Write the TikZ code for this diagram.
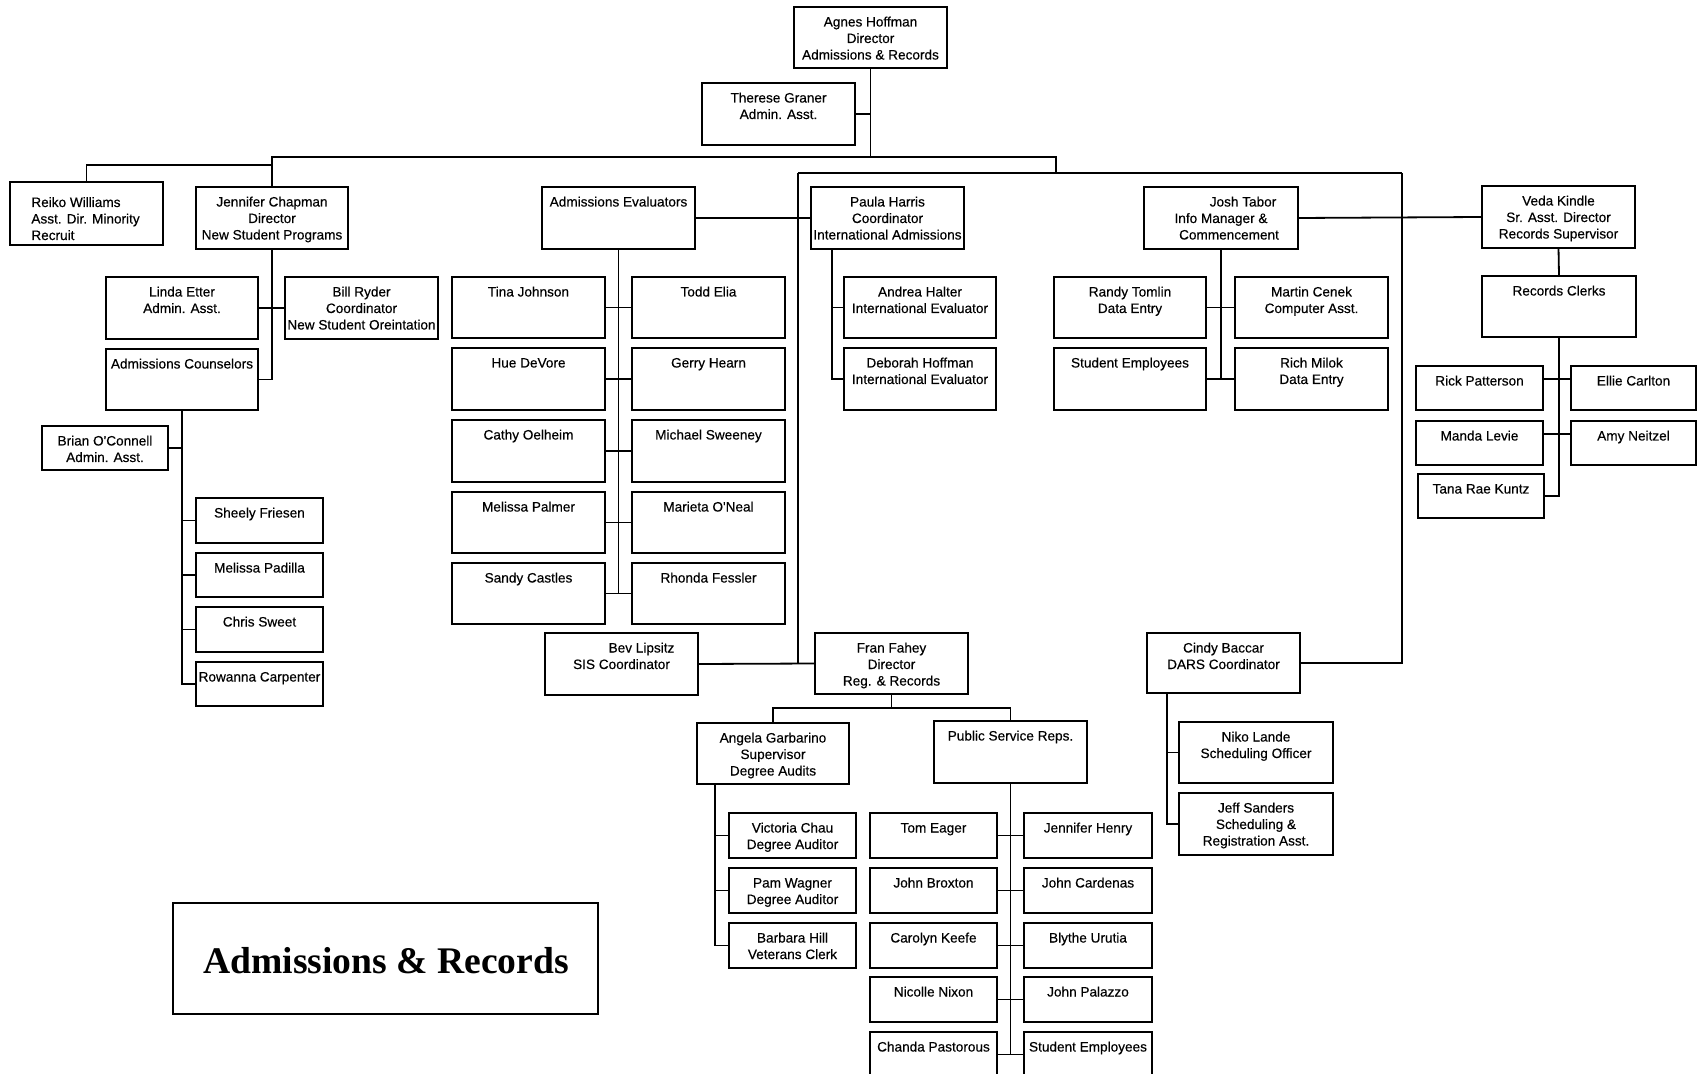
\documentclass[tikz,border=0pt]{standalone}
\usepackage{fontspec}
\setmainfont{Liberation Sans}
\newfontfamily\cardfont[FakeBold=0.4]{Liberation Sans}
\newfontfamily\titlefont{Liberation Serif}
\usetikzlibrary{calc}
\tikzset{
  card/.style={draw, line width=0.9pt, inner sep=0pt, outer sep=0pt, anchor=north west},
  cardtext/.style={inner sep=0pt, anchor=base, font=\cardfont\fontsize{6.8}{8.25}\selectfont},
  link/.style={draw, line width=0.9pt},
}
% \card{extra style}{name}{left}{top}{right}{bottom}{lines}
\newcommand\card[7]{%
  \node[card,#1,minimum width={(#5-#3)*0.5pt},minimum height={(#6-#4)*0.5pt}] (#2) at (#3,#4) {};
  \node[cardtext] (#2-t) at ($(#2.north)+(0,19.5)$) {\begin{tabular}[t]{@{}c@{}}#7\end{tabular}};
}
\begin{document}
\begin{tikzpicture}[x=0.5pt,y=-0.5pt]
\useasboundingbox (0,0) rectangle (1701,1074);
\clip (0,0) rectangle (1701,1074);

% --- top level
\card{}{agnes}{794}{7}{947}{68}{Agnes Hoffman\\Director\\Admissions \& Records}
\card{}{therese}{702}{83}{855}{145}{Therese Graner\\Admin. Asst.}

% --- new student programs
\node[card,minimum width=76.5pt,minimum height=31.5pt] (reiko) at (10,182) {};
\node[cardtext,anchor=base west] (reiko-t) at (31,207) {\begin{tabular}[t]{@{}l@{}}Reiko Williams\\Asst. Dir. Minority\\Recruit\end{tabular}};
\card{}{jennifer}{196}{187}{348}{249}{Jennifer Chapman\\Director\\New Student Programs}
\card{}{linda}{106}{277}{258}{339}{Linda Etter\\Admin. Asst.}
\card{}{bill}{285}{277}{438}{339}{Bill Ryder\\Coordinator\\New Student Oreintation}
\card{}{counselors}{106}{349}{258}{410}{Admissions Counselors}
\card{}{brian}{42}{426}{168}{470}{Brian O'Connell\\Admin. Asst.}
\card{}{sheely}{196}{498}{323}{543}{Sheely Friesen}
\card{}{padilla}{196}{553}{323}{597}{Melissa Padilla}
\card{}{sweet}{196}{607}{323}{652}{Chris Sweet}
\card{}{rowanna}{196}{662}{323}{706}{Rowanna Carpenter}

% --- admissions evaluators
\card{}{ae}{542}{187}{695}{249}{Admissions Evaluators}
\card{}{tina}{452}{277}{605}{338}{Tina Johnson}
\card{}{todd}{632}{277}{785}{338}{Todd Elia}
\card{}{hue}{452}{348}{605}{410}{Hue DeVore}
\card{}{gerry}{632}{348}{785}{410}{Gerry Hearn}
\card{}{cathy}{452}{420}{605}{482}{Cathy Oelheim}
\card{}{michael}{632}{420}{785}{482}{Michael Sweeney}
\card{}{mpalmer}{452}{492}{605}{553}{Melissa Palmer}
\card{}{marieta}{632}{492}{785}{553}{Marieta O'Neal}
\card{}{sandy}{452}{563}{605}{624}{Sandy Castles}
\card{}{rhonda}{632}{563}{785}{624}{Rhonda Fessler}

% --- international admissions
\card{}{paula}{811}{187}{964}{249}{Paula Harris\\Coordinator\\International Admissions}
\card{}{andrea}{844}{277}{996}{338}{Andrea Halter\\International Evaluator}
\card{}{deborah}{844}{348}{996}{410}{Deborah Hoffman\\International Evaluator}

% --- information management
\card{}{josh}{1144}{187}{1298}{249}{\hspace*{22pt}Josh Tabor\\Info Manager \&\\\hspace*{8pt}Commencement}
\card{}{randy}{1054}{277}{1206}{338}{Randy Tomlin\\Data Entry}
\card{}{martin}{1235}{277}{1388}{338}{Martin Cenek\\Computer Asst.}
\card{}{studentsA}{1054}{348}{1206}{410}{Student Employees}
\card{}{rich}{1235}{348}{1388}{410}{Rich Milok\\Data Entry}

% --- records
\card{}{veda}{1482}{186}{1635}{248}{Veda Kindle\\Sr. Asst. Director\\Records Supervisor}
\card{}{clerks}{1482}{276}{1636}{337}{Records Clerks}
\card{}{rick}{1416}{366}{1543}{410}{Rick Patterson}
\card{}{ellie}{1571}{366}{1696}{410}{Ellie Carlton}
\card{}{manda}{1416}{421}{1543}{465}{Manda Levie}
\card{line width=1.4pt}{amy}{1571}{421}{1696}{465}{Amy Neitzel}
\card{}{tana}{1418}{474}{1544}{518}{Tana Rae Kuntz}

% --- registration
\card{}{bev}{545}{633}{698}{695}{\hspace*{20pt}Bev Lipsitz\\SIS Coordinator}
\card{}{fran}{815}{633}{968}{694}{Fran Fahey\\Director\\Reg. \& Records}
\card{}{angela}{697}{723}{849}{784}{Angela Garbarino\\Supervisor\\Degree Audits}
\card{}{psr}{934}{721}{1087}{783}{Public Service Reps.}
\card{}{victoria}{729}{813}{856}{858}{Victoria Chau\\Degree Auditor}
\card{}{pam}{729}{868}{856}{913}{Pam Wagner\\Degree Auditor}
\card{}{barbara}{729}{923}{856}{968}{Barbara Hill\\Veterans Clerk}
\card{}{tom}{870}{813}{997}{858}{Tom Eager}
\card{}{henry}{1024}{813}{1152}{858}{Jennifer Henry}
\card{}{broxton}{870}{868}{997}{913}{John Broxton}
\card{}{cardenas}{1024}{868}{1152}{913}{John Cardenas}
\card{}{keefe}{870}{923}{997}{968}{Carolyn Keefe}
\card{}{urutia}{1024}{923}{1152}{968}{Blythe Urutia}
\card{}{nixon}{870}{977}{997}{1022}{Nicolle Nixon}
\card{}{palazzo}{1024}{977}{1152}{1022}{John Palazzo}
\card{}{chanda}{870}{1032}{997}{1077}{Chanda Pastorous}
\card{}{studentsB}{1024}{1032}{1152}{1077}{Student Employees}

% --- DARS
\card{}{cindy}{1147}{633}{1300}{693}{Cindy Baccar\\DARS Coordinator}
\card{}{niko}{1179}{722}{1333}{783}{Niko Lande\\Scheduling Officer}
\card{}{jeff}{1179}{793}{1333}{855}{Jeff Sanders\\Scheduling \&\\Registration Asst.}

% --- title
\node[card,minimum width=212.5pt,minimum height=55.5pt] (title) at (173,903) {};
\node[inner sep=0pt,anchor=base,font=\titlefont\bfseries\fontsize{18.8}{22}\selectfont] (title-t) at (386,973) {Admissions \& Records};

% --- junctions
\coordinate (busE) at (1056,157);
\coordinate (regW) at (798,173);
\coordinate (regE) at (1402,173);
\coordinate (rkj) at (272,165);
\coordinate (pv) at ($(paula.south west)+(21,0)$);
\coordinate (fj) at ($(fran.south)+(0,14)$);
\coordinate (av) at ($(angela.south west)+(18,0)$);
\coordinate (cv) at ($(cindy.south west)+(20,0)$);

% --- connectors: top
\draw[link] (agnes.south) -- (agnes.south |- busE);
\draw[link] (therese.east) -- (therese.east -| agnes.south);
\draw[link] (jennifer.north) |- (busE) -- (busE |- regW);
\draw[link] (regW) -- (regE);
\draw[link] (rkj) -| (reiko.north);

% new student programs
\draw[link] (jennifer.south) |- (counselors.east);
\draw[link] (linda.east) -- (bill.west);
\draw[link] (counselors.south) |- (rowanna.west);
\draw[link] (brian.east) -- (brian.east -| counselors.south);
\draw[link] (sheely.west) -- (sheely.west -| counselors.south);
\draw[link] (padilla.west) -- (padilla.west -| counselors.south);
\draw[link] (sweet.west) -- (sweet.west -| counselors.south);

% admissions evaluators
\draw[link] (ae.east) -- (paula.west);
\draw[link] (ae.south) -- (ae.south |- sandy.east);
\draw[link] (tina.east) -- (todd.west);
\draw[link] (hue.east) -- (gerry.west);
\draw[link] (cathy.east) -- (michael.west);
\draw[link] (mpalmer.east) -- (marieta.west);
\draw[link] (sandy.east) -- (rhonda.west);

% international
\draw[link] (pv) |- (deborah.west);
\draw[link] (andrea.west) -- (andrea.west -| pv);

% information management
\draw[link] (josh.east) -- (veda.west);
\draw[link] (josh.south) -- (josh.south |- rich.west);
\draw[link] (randy.east) -- (martin.west);
\draw[link] (studentsA.east) -- (rich.west);

% records
\draw[link] (veda.south) -- (clerks.north);
\draw[link] (clerks.south) |- (tana.east);
\draw[link] ($(rick.east)+(0,-9)$) -- ($(ellie.west)+(0,-9)$);
\draw[link] ($(manda.east)+(0,-9)$) -- ($(amy.west)+(0,-9)$);

% registration
\draw[link] (regW) |- (fran.west);
\draw[link] (bev.east) -- (fran.west);
\draw[link] (fran.south) -- (fj);
\draw[link] (angela.north) |- (fj) -| (psr.north);
\draw[link] (av) |- (barbara.west);
\draw[link] (victoria.west) -- (victoria.west -| av);
\draw[link] (pam.west) -- (pam.west -| av);
\draw[link] (psr.south) -- (psr.south |- chanda.east);
\draw[link] (tom.east) -- (henry.west);
\draw[link] (broxton.east) -- (cardenas.west);
\draw[link] (keefe.east) -- (urutia.west);
\draw[link] (nixon.east) -- (palazzo.west);
\draw[link] (chanda.east) -- (studentsB.west);

% DARS
\draw[link] (regE) |- (cindy.east);
\draw[link] (cv) |- (jeff.west);
\draw[link] (niko.west) -- (niko.west -| cv);
\end{tikzpicture}
\end{document}
